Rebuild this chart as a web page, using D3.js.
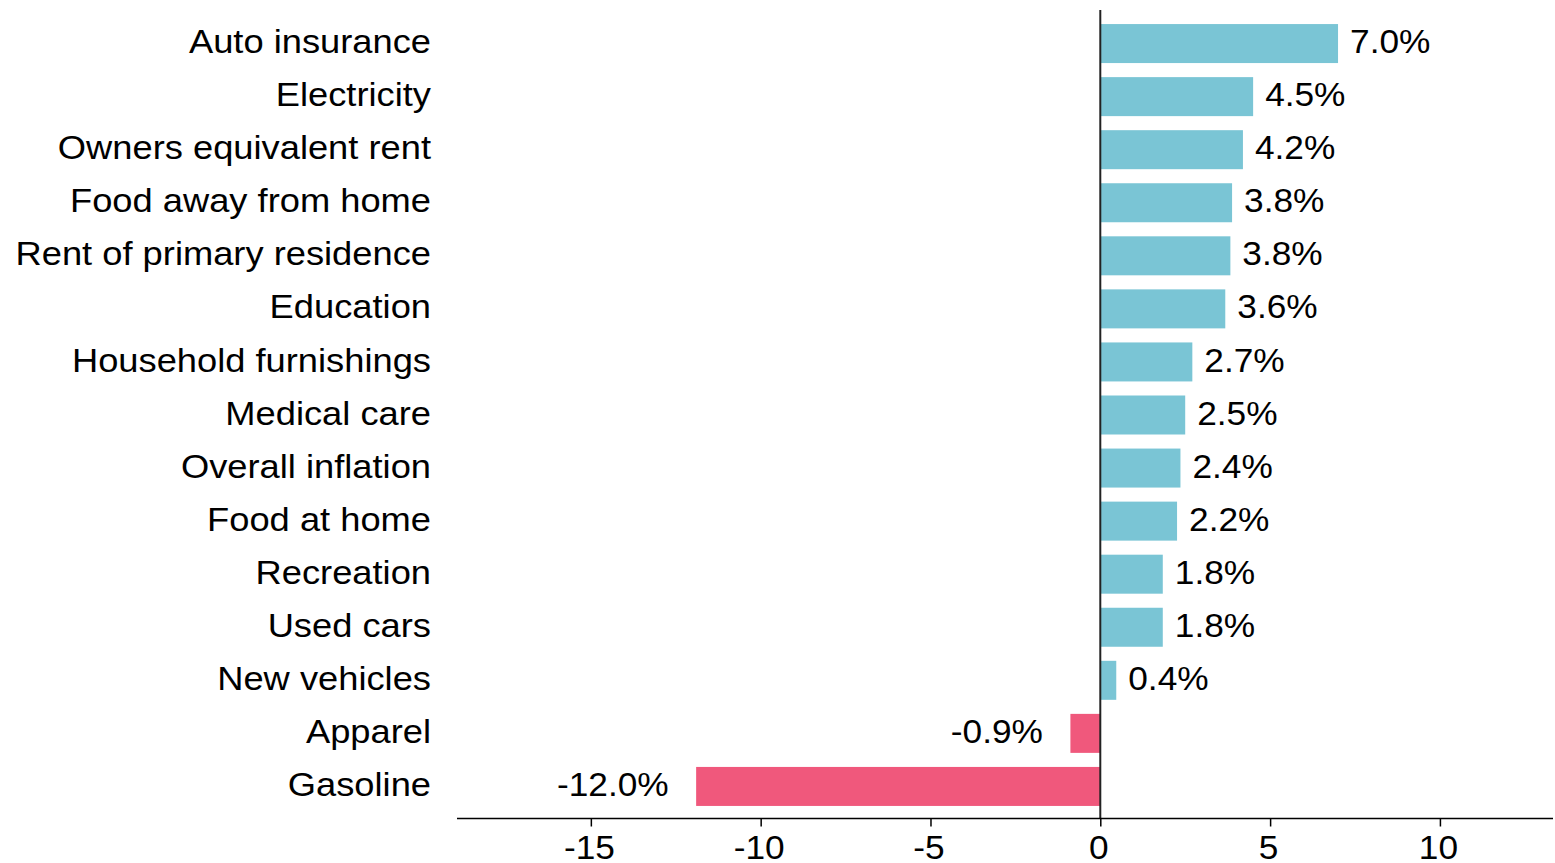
<!DOCTYPE html>
<html>
<head>
<meta charset="utf-8">
<script src="https://cdn.jsdelivr.net/npm/d3@7"></script>
<style>
  html, body { margin: 0; padding: 0; background: #fff; }
  svg { display: block; }
  text { font-family: "Liberation Sans", Arial, Helvetica, sans-serif; fill: #000; }
</style>
</head>
<body>
<svg id="chart" width="1555" height="863"></svg>
<script>
const categories = ["Auto insurance", "Electricity", "Owners equivalent rent", "Food away from home",
  "Rent of primary residence", "Education", "Household furnishings", "Medical care",
  "Overall inflation", "Food at home", "Recreation", "Used cars", "New vehicles", "Apparel", "Gasoline"];
const values = [7.0, 4.5, 4.2, 3.88, 3.83, 3.68, 2.71, 2.5, 2.36, 2.26, 1.84, 1.84, 0.47, -0.88, -11.9];
const valueLabels = ["7.0%", "4.5%", "4.2%", "3.8%", "3.8%", "3.6%", "2.7%", "2.5%", "2.4%", "2.2%",
  "1.8%", "1.8%", "0.4%", "-0.9%", "-12.0%"];
const xTicks = [-15, -10, -5, 0, 5, 10];
const xTickLabels = ["-15", "-10", "-5", "0", "5", "10"];

const posColor = "#7AC5D5";
const negColor = "#F0587C";
const FS = 32.5;    // font size
const SX = 1.085;   // horizontal stretch of value/tick text
const SXC = 1.117;  // horizontal stretch of category text
const BASE = 9.6;   // baseline offset from band centre

const svg = d3.select("#chart");
const x = d3.scaleLinear().domain([-19, 13.35]).range([455, 1553.7]);
const y = d3.scaleBand().domain(categories).range([10, 820]).padding(0.265);
const axisY = 818.5;

// bars
svg.append("g").selectAll("rect").data(categories).join("rect")
  .attr("x", (d, i) => Math.min(x(0), x(values[i])))
  .attr("y", d => y(d))
  .attr("width", (d, i) => Math.abs(x(values[i]) - x(0)))
  .attr("height", y.bandwidth())
  .attr("fill", (d, i) => values[i] >= 0 ? posColor : negColor);

// zero line
svg.append("line")
  .attr("x1", x(0)).attr("x2", x(0))
  .attr("y1", 10).attr("y2", axisY)
  .attr("stroke", "#222").attr("stroke-width", 2);

// category labels
svg.append("g").selectAll("text").data(categories).join("text")
  .attr("transform", d => `translate(431,${y(d) + y.bandwidth() / 2 + BASE}) scale(${SXC},1)`)
  .attr("text-anchor", "end")
  .attr("font-size", FS)
  .text(d => d);

// value labels
svg.append("g").selectAll("text").data(categories).join("text")
  .attr("transform", (d, i) => {
    const v = values[i];
    const tx = v >= 0 ? x(v) + 12 : x(v) - 27.5;
    return `translate(${tx},${y(d) + y.bandwidth() / 2 + BASE}) scale(${SX},1)`;
  })
  .attr("text-anchor", (d, i) => values[i] >= 0 ? "start" : "end")
  .attr("font-size", FS)
  .text((d, i) => valueLabels[i]);

// x axis
const xAxis = d3.axisBottom(x)
  .tickValues(xTicks)
  .tickFormat((d, i) => xTickLabels[i])
  .tickSize(8)
  .tickSizeOuter(0);
const gx = svg.append("g").attr("transform", `translate(0,${axisY})`).call(xAxis);
gx.select(".domain").attr("stroke", "#000").attr("stroke-width", 1.5)
  .attr("d", `M457,0H1553`);
gx.selectAll(".tick line").attr("stroke", "#000").attr("stroke-width", 1.5);
gx.selectAll(".tick text")
  .attr("font-size", FS)
  .attr("font-family", '"Liberation Sans", Arial, sans-serif')
  .attr("fill", "#000")
  .attr("dy", null)
  .attr("y", 0)
  .attr("transform", `translate(-2,40.5) scale(${SX},1)`);
</script>
</body>
</html>
